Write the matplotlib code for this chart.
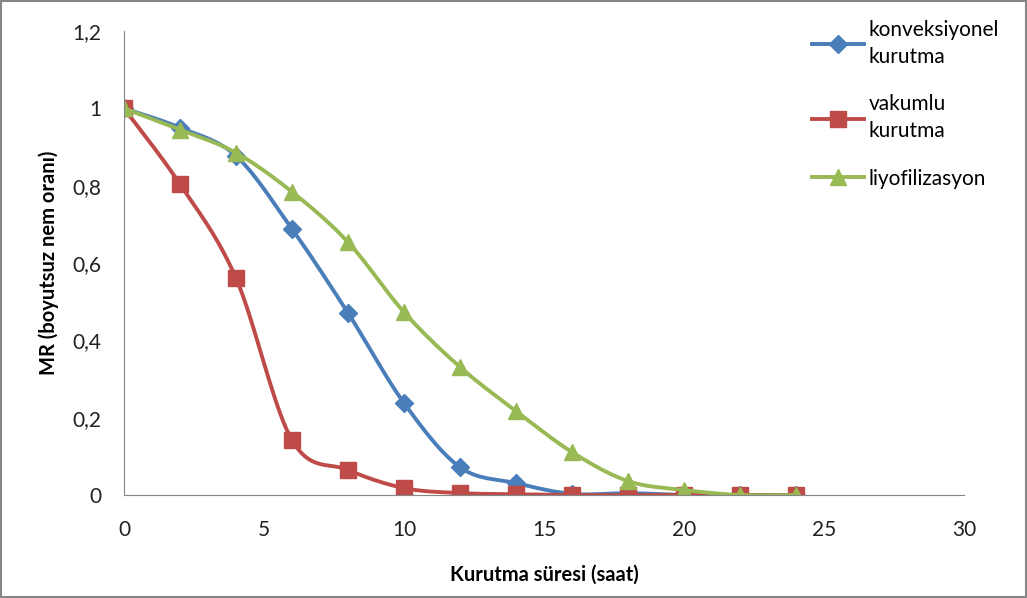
import matplotlib.pyplot as plt
import numpy as np
from matplotlib.patches import Rectangle

plt.rcParams['font.family'] = ['Lato', 'DejaVu Sans']

# data
saat = [0, 2, 4, 6, 8, 10, 12, 14, 16, 18, 20, 22, 24]
konveksiyonel = [1.0, 0.95, 0.877, 0.688, 0.471, 0.238, 0.072, 0.031, 0.003, 0.005, 0.0, 0.0, 0.0]
vakumlu = [1.0, 0.804, 0.561, 0.142, 0.065, 0.018, 0.005, 0.002, 0.0, 0.0, 0.0, 0.0, 0.0]
liyofilizasyon = [1.0, 0.945, 0.885, 0.784, 0.654, 0.473, 0.331, 0.217, 0.111, 0.036, 0.013, 0.0, 0.0]

labels = ['konveksiyonel\nkurutma', 'vakumlu\nkurutma', 'liyofilizasyon']
y_ticks = [0, 0.2, 0.4, 0.6, 0.8, 1.0, 1.2]
y_tick_labels = ['0', '0,2', '0,4', '0,6', '0,8', '1', '1,2']
x_ticks = [0, 5, 10, 15, 20, 25, 30]


def smooth(x, y, n=20):
    # excel-like smoothed line (catmull-rom bezier through the points)
    x = np.asarray(x, float)
    y = np.asarray(y, float)
    xs, ys = [], []
    for i in range(len(x) - 1):
        i0 = max(i - 1, 0)
        i3 = min(i + 2, len(x) - 1)
        p0 = np.array([x[i], y[i]])
        p3 = np.array([x[i + 1], y[i + 1]])
        c1 = p0 + (p3 - np.array([x[i0], y[i0]])) / 6.0
        c2 = p3 - (np.array([x[i3], y[i3]]) - p0) / 6.0
        t = np.linspace(0, 1, n)[:, None]
        pts = ((1 - t) ** 3) * p0 + 3 * ((1 - t) ** 2) * t * c1 + 3 * (1 - t) * t ** 2 * c2 + t ** 3 * p3
        xs.extend(pts[:, 0])
        ys.extend(pts[:, 1])
    return xs, ys


fig = plt.figure(figsize=(10.27, 5.98), dpi=100)
ax = fig.add_axes([0.1207, 0.1722, 0.818, 0.776])

series = [
    (konveksiyonel, '#4A7EBB', 'D', 9),
    (vakumlu, '#BE4B48', 's', 11),
    (liyofilizasyon, '#98B954', '^', 11),
]
for (vals, col, mk, ms), lab in zip(series, labels):
    sx, sy = smooth(saat, vals)
    ax.plot(sx, sy, color=col, lw=2.8, solid_capstyle='round')
    ax.plot(saat, vals, linestyle='none', marker=mk, ms=ms, color=col)
    ax.plot([], [], color=col, lw=2.8, marker=mk, ms=ms, label=lab)

ax.set_xlim(0, 30)
ax.set_ylim(0, 1.2)
ax.set_xticks(x_ticks)
ax.set_yticks(y_ticks)
ax.set_yticklabels(y_tick_labels)
ax.tick_params(axis='x', length=0, labelsize=15, colors='#222222', pad=18)
ax.tick_params(axis='y', length=0, labelsize=15, colors='#222222', pad=16)
for s in ['top', 'right']:
    ax.spines[s].set_visible(False)
for s in ['left', 'bottom']:
    ax.spines[s].set_color('#868686')
ax.set_xlabel('Kurutma süresi (saat)', fontsize=14.5, fontweight='bold', labelpad=18)
ax.set_ylabel('MR (boyutsuz nem oranı)', fontsize=14.5, fontweight='bold', labelpad=10)
ax.patch.set_alpha(0)

leg = fig.legend(loc='upper left', bbox_to_anchor=(0.772, 0.998), frameon=False,
                 fontsize=15, handlelength=2.5, labelspacing=1.3, handletextpad=0.25)
for t in leg.get_texts():
    t.set_linespacing(1.45)

fig.patches.append(Rectangle((0.001, 0.001), 0.998, 0.998, transform=fig.transFigure,
                             fill=False, edgecolor='#868686', lw=1.5))

plt.savefig('out.png', dpi=100)
